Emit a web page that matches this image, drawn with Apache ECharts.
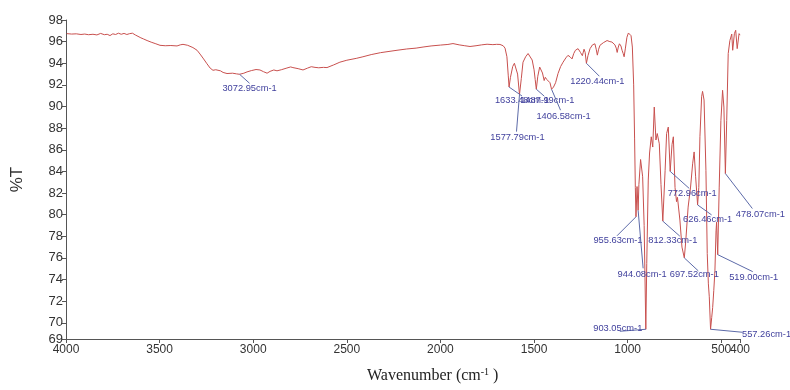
<!DOCTYPE html>
<html>
<head>
<meta charset="utf-8">
<script src="https://cdn.jsdelivr.net/npm/echarts@6/dist/echarts.min.js"></script>
<style>
    html, body {margin: 0; padding: 0; background: #fff;}
    #chart {width: 790px; height: 390px;}
</style>
</head>
<body>
<div id="chart"></div>
<script>
// FTIR spectrum: [wavenumber cm-1, %T]
const spectrum = [
    [3996, 96.74], [3970, 96.70], [3945, 96.72], [3920, 96.66], [3900, 96.70], [3880, 96.64],
    [3856, 96.68], [3835, 96.62], [3815, 96.76], [3795, 96.64], [3780, 96.68], [3765, 96.56],
    [3750, 96.72], [3735, 96.66], [3720, 96.78], [3705, 96.68], [3690, 96.76], [3675, 96.66],
    [3660, 96.74], [3645, 96.78], [3630, 96.62], [3621, 96.50], [3600, 96.35], [3585, 96.24],
    [3567, 96.10], [3545, 95.95], [3520, 95.80], [3498, 95.66], [3470, 95.62], [3440, 95.64],
    [3407, 95.60], [3390, 95.70], [3375, 95.75], [3350, 95.66], [3322, 95.45], [3300, 95.20],
    [3284, 94.85], [3265, 94.40], [3247, 93.95], [3230, 93.55], [3215, 93.35], [3200, 93.40],
    [3190, 93.22], [3175, 93.30], [3161, 93.15], [3140, 93.05], [3110, 93.08], [3090, 93.02],
    [3072.95, 92.98], [3050, 93.08], [3033, 93.20], [3010, 93.32], [2985, 93.42], [2964, 93.38],
    [2945, 93.22], [2926, 93.08], [2910, 93.25], [2890, 93.38], [2873, 93.30], [2850, 93.40],
    [2820, 93.56], [2800, 93.66], [2788, 93.60], [2760, 93.50], [2734, 93.38], [2710, 93.55],
    [2690, 93.68], [2670, 93.62], [2650, 93.58], [2625, 93.62], [2606, 93.60], [2570, 93.85],
    [2537, 94.10], [2500, 94.28], [2450, 94.45], [2414, 94.60], [2370, 94.80], [2320, 94.98],
    [2280, 95.08], [2232, 95.20], [2180, 95.32], [2130, 95.40], [2093, 95.50], [2050, 95.60],
    [2000, 95.68], [1960, 95.74], [1933, 95.82], [1900, 95.70], [1870, 95.62], [1842, 95.55],
    [1810, 95.62], [1780, 95.70], [1751, 95.76], [1720, 95.72], [1700, 95.75], [1682, 95.74],
    [1665, 95.62], [1655, 95.40], [1645, 94.60], [1638, 92.90], [1633.48, 91.80], [1626, 92.70],
    [1614, 93.70], [1605, 94.00], [1596, 93.90], [1588, 93.00], [1577.79, 91.10], [1568, 92.60],
    [1559, 94.10], [1545, 94.60], [1532, 94.90], [1522, 94.85], [1510, 94.30], [1500, 93.40],
    [1494, 92.50], [1487.99, 91.60], [1480, 92.80], [1470, 93.65], [1462, 93.50], [1455, 93.10],
    [1446, 92.40], [1440, 92.70], [1432, 92.50], [1424, 92.60], [1415, 92.20], [1406.58, 91.60],
    [1396, 91.80], [1385, 92.20], [1372, 93.05], [1358, 93.70], [1345, 94.10], [1330, 94.50],
    [1319, 94.73], [1308, 94.60], [1297, 94.40], [1288, 94.90], [1279, 95.20], [1265, 95.35],
    [1252, 95.00], [1242, 94.70], [1233, 95.30], [1227, 95.00], [1220.44, 94.00], [1212, 94.70],
    [1201, 95.35], [1188, 95.70], [1175, 95.80], [1168, 95.30], [1162, 94.75], [1155, 95.30],
    [1148, 95.66], [1130, 95.90], [1110, 96.10], [1095, 96.00], [1084, 95.96], [1074, 96.05],
    [1068, 95.70], [1061, 95.40], [1056, 95.00], [1050, 95.50], [1044, 95.80], [1036, 95.60],
    [1030, 95.20], [1024, 94.90], [1019, 94.60], [1012, 95.40], [1004, 96.40], [996, 96.80],
    [990, 96.78], [982, 96.55], [975, 95.50], [968, 92.00], [963, 87.00], [959, 82.50],
    [955.63, 79.80], [950, 82.60], [944.08, 80.40], [940, 82.80], [931, 85.10], [920, 83.50],
    [912, 79.00], [903.05, 69.40], [898, 75.50], [890, 83.20], [883, 85.70], [874, 87.20],
    [866, 86.25], [858, 89.95], [849, 86.90], [842, 87.50], [831, 86.55], [822, 82.80],
    [812.33, 79.40], [800, 84.10], [792, 87.50], [783, 88.10], [772.96, 84.00], [763, 86.50],
    [756, 87.20], [747, 82.50], [739, 81.20], [734, 81.60], [721, 79.50], [710, 77.00],
    [697.52, 76.00], [690, 77.50], [677, 80.70], [664, 82.55], [653, 84.70], [645, 85.80],
    [637, 83.50], [626.46, 80.90], [620, 82.50], [614, 87.20], [605, 90.90], [600, 91.40],
    [592, 90.60], [582, 84.10], [575, 76.40], [569, 73.60], [564, 72.40], [557.26, 69.40],
    [551, 70.50], [546, 71.40], [540, 73.00], [534, 74.80], [528, 78.50], [525, 79.30],
    [519, 76.30], [511, 82.55], [502, 88.70], [493, 91.50], [486, 89.95], [478.07, 83.80],
    [471, 88.70], [463, 94.90], [454, 96.10], [444, 96.70], [439, 95.20], [430, 96.74],
    [423, 97.05], [415, 95.35], [405, 96.74], [400, 96.60]
];

// labelled peaks (cm-1)
const peakWn = [3072.95, 1633.48, 1577.79, 1487.99, 1406.58, 1220.44, 955.63, 944.08,
    903.05, 812.33, 772.96, 697.52, 626.46, 557.26, 519.00, 478.07];

const xTicks = [4000, 3500, 3000, 2500, 2000, 1500, 1000, 500, 400];
const xLabels = [4000, 3500, 3000, 2500, 2000, 1500, 1000, 500];
const xEndLabel = [400];
const yTicks = [68.5, 70, 72, 74, 76, 78, 80, 82, 84, 86, 88, 90, 92, 94, 96, 98];

// label placement, px from the peak: [labelDx, labelDy, lineEndDx, lineEndDy]
const labelPos = [
    [10, 14, 10, 9], [13, 13, 13, 9], [-2, 43, -3, 37], [11, 11, 8, 7],
    [12, 27, 9, 21], [11, 18, 13, 13], [-18, 24, -19, 19], [4, 64, 5, 58],
    [-28, -1, -26, 2], [10, 19, 17, 15], [22, 22, 19, 17], [10, 17, 14, 13],
    [10, 15, 14, 10], [56, 5, 32, 3], [36, 23, 35, 17], [35, 41, 27, 35]
];

const peakData = peakWn.map(w => {
    const p = spectrum.find(d => Math.abs(d[0] - w) < 0.01);
    return [w, p[1]];
});

const labelFont = {
    color: '#333',
    fontSize: 12,
    fontFamily: 'Liberation Sans, Arial',
    margin: 5,
    formatter: v => String(v)
};

let chart = echarts.init(document.getElementById('chart'));
chart.setOption({
    animation: false,
    grid: {left: 66, right: 50, top: 20, bottom: 51},
    xAxis: [
        {
            type: 'value',
            inverse: true,
            min: 400,
            max: 4000,
            splitLine: {show: false},
            axisLine: {lineStyle: {color: '#555', width: 1}},
            axisTick: {customValues: xTicks, length: 4, lineStyle: {color: '#555'}},
            axisLabel: Object.assign({customValues: xLabels}, labelFont)
        },
        {
            // second axis only to print the 400 end label next to 500
            type: 'value',
            position: 'bottom',
            inverse: true,
            min: 400,
            max: 4000,
            splitLine: {show: false},
            axisLine: {show: false},
            axisTick: {show: false},
            axisLabel: Object.assign({customValues: xEndLabel}, labelFont)
        }
    ],
    yAxis: {
        type: 'value',
        min: 68.5,
        max: 98,
        name: '%T',
        nameLocation: 'middle',
        nameGap: 40,
        nameRotate: 90,
        nameTextStyle: {fontSize: 17, color: '#333', fontFamily: 'Liberation Sans, Arial'},
        splitLine: {show: false},
        axisLine: {show: true, lineStyle: {color: '#555', width: 1}},
        axisTick: {show: true, customValues: yTicks, length: 4, lineStyle: {color: '#555'}},
        axisLabel: {
            customValues: yTicks,
            color: '#333',
            fontSize: 13,
            fontFamily: 'Liberation Sans, Arial',
            margin: 3,
            formatter: v => v < 69 ? '69' : String(v)
        }
    },
    graphic: [{
        type: 'text',
        left: 367,
        top: 367,
        style: {
            text: '{a|Wavenumber (cm}{s|-1}{a| )}',
            rich: {
                a: {fontFamily: 'Liberation Serif', fontSize: 16, fill: '#222', lineHeight: 18},
                s: {fontFamily: 'Liberation Serif', fontSize: 10, fill: '#222', lineHeight: 18, verticalAlign: 'top', padding: [0, 0, 6, 0]}
            }
        }
    }],
    series: [
        {
            type: 'line',
            data: spectrum,
            showSymbol: false,
            symbol: 'none',
            lineStyle: {color: '#c8504e', width: 1},
            z: 2
        },
        {
            type: 'custom',
            data: peakData,
            z: 3,
            renderItem: (params, api) => {
                const i = params.dataIndex;
                const pt = api.coord([api.value(0), api.value(1)]);
                const lp = labelPos[i];
                return {
                    type: 'group',
                    children: [
                        {
                            type: 'line',
                            shape: {x1: pt[0], y1: pt[1], x2: pt[0] + lp[2], y2: pt[1] + lp[3]},
                            style: {stroke: '#5c6aa8', lineWidth: 1}
                        },
                        {
                            type: 'text',
                            style: {
                                text: peakWn[i].toFixed(2) + 'cm-1',
                                x: pt[0] + lp[0],
                                y: pt[1] + lp[1],
                                align: 'center',
                                verticalAlign: 'middle',
                                fill: '#3f3f9c',
                                fontSize: 9.3,
                                fontFamily: 'Liberation Sans, Arial'
                            }
                        }
                    ]
                };
            }
        }
    ]
});
</script>
</body>
</html>
